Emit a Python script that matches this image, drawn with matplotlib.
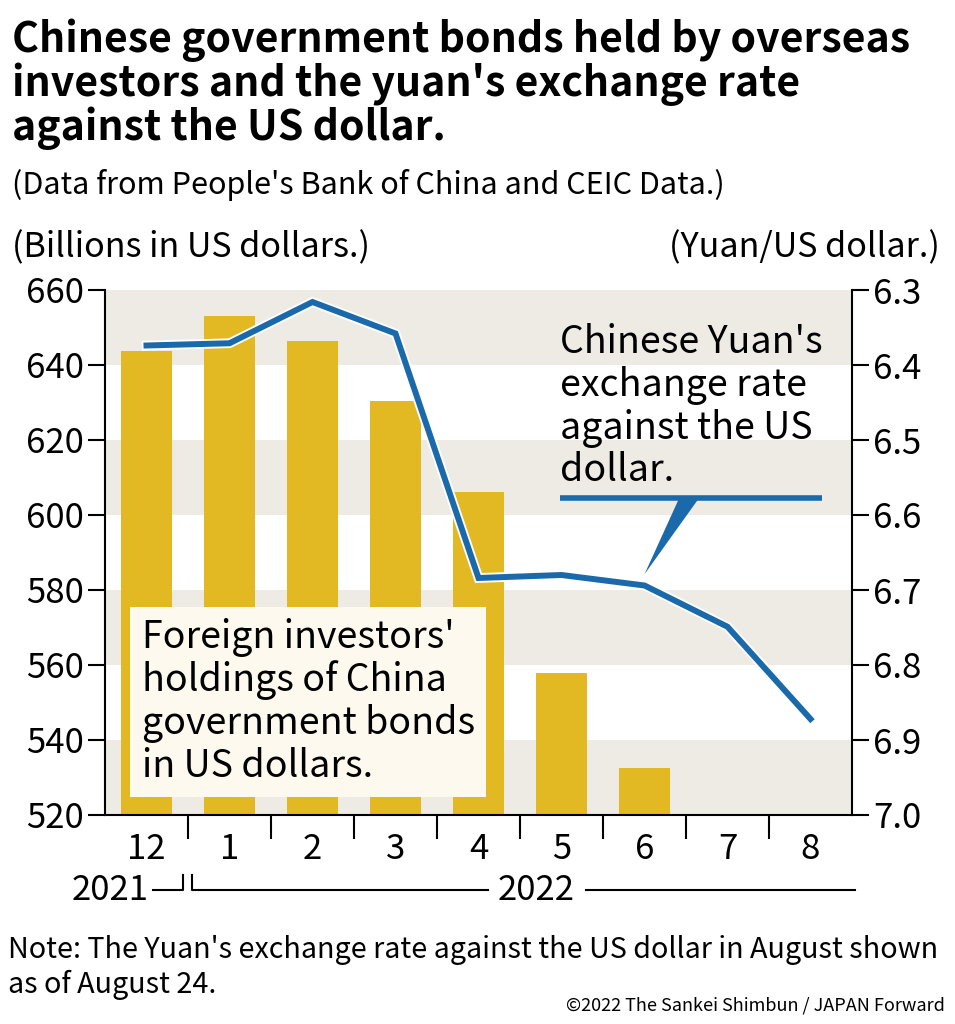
import matplotlib
matplotlib.use("Agg")
import matplotlib.pyplot as plt
import matplotlib.patheffects as pe
from matplotlib.patches import Polygon
from matplotlib.transforms import blended_transform_factory

plt.rcParams['font.family'] = ['Noto Sans CJK JP', 'DejaVu Sans']

# データ
months = ['12', '1', '2', '3', '4', '5', '6', '7', '8']
bonds = [643.7, 653.0, 646.4, 630.3, 606.2, 557.9, 532.6, None, None]  # 十億ドル
yuan = [6.374, 6.371, 6.316, 6.358, 6.684, 6.680, 6.694, 6.749, 6.872]  # 元/ドル
left_ticks = [520, 540, 560, 580, 600, 620, 640, 660]
right_ticks = [7.0, 6.9, 6.8, 6.7, 6.6, 6.5, 6.4, 6.3]
bands = [(520, 540), (560, 580), (600, 620), (640, 660)]

W, H = 955, 1024
fig = plt.figure(figsize=(W / 100, H / 100), dpi=100)
ax = fig.add_axes([105 / W, 1 - 815 / H, 747 / W, 525 / H])


def ftext(x, y, s, **kw):
    # ピクセル座標でテキストを置く
    fig.text(x / W, 1 - y / H, s, **kw)


# 背景の帯
for lo, hi in bands:
    ax.axhspan(lo, hi, color='#eeebe5', lw=0, zorder=0)

x = list(range(len(months)))
bx = [i for i, v in zip(x, bonds) if v is not None]
bv = [v for v in bonds if v is not None]
ax.bar(bx, bv, width=0.62, color='#e2b823', zorder=2)

ax.set_xlim(-0.5, len(months) - 0.5)
ax.set_ylim(520, 660)
ax.set_yticks(left_ticks)
ax.set_yticklabels([str(t) for t in left_ticks], fontsize=25)
ax.tick_params(axis='y', length=12, width=1.5, pad=3)
ax.set_xticks(x)
ax.set_xticklabels([])
ax.tick_params(axis='x', which='major', length=0)
ax.set_xticks([i + 0.5 for i in x[:-1]], minor=True)
ax.tick_params(axis='x', which='minor', length=17, width=1.5)
for s in ['top', 'right']:
    ax.spines[s].set_visible(False)
for s in ['left', 'bottom']:
    ax.spines[s].set_linewidth(1.5)

# 月ラベル
tr = blended_transform_factory(ax.transData, ax.transAxes)
for i, m in zip(x, months):
    ax.text(i, -0.066, m, transform=tr, ha='center', va='center', fontsize=25)

# 年の括弧
ax.text(-0.44, -0.143, '2021', transform=tr, ha='center', va='center', fontsize=25)
ax.text(4.7, -0.143, '2022', transform=tr, ha='center', va='center', fontsize=25)
kw = dict(transform=tr, color='black', lw=1.5, clip_on=False)
ax.plot([0.08, 0.44, 0.44], [-0.143, -0.143, -0.115], **kw)
ax.plot([0.55, 0.55, 4.12], [-0.115, -0.143, -0.143], **kw)
ax.plot([5.3, 8.54], [-0.143, -0.143], **kw)

# 為替レート(右軸)
ax2 = ax.twinx()
ax2.set_ylim(7.0, 6.3)
ax2.set_yticks(right_ticks)
ax2.set_yticklabels([f'{t:.1f}' for t in right_ticks], fontsize=25)
ax2.tick_params(axis='y', length=12, width=1.5, pad=3)
for s in ['top', 'left', 'bottom']:
    ax2.spines[s].set_visible(False)
ax2.spines['right'].set_linewidth(1.5)
ax2.plot(x, yuan, color='#1a6aab', lw=4.3, solid_joinstyle='miter', zorder=3,
         path_effects=[pe.Stroke(linewidth=7, foreground='white'), pe.Normal()])

# 注記線とくさび
ax2.plot([4.98, 8.14], [6.577, 6.577], color='#1a6aab', lw=4, solid_capstyle='butt')
ax2.add_patch(Polygon([[6.42, 6.577], [6.66, 6.577], [6.0, 6.679]],
                      closed=True, color='#1a6aab', lw=0))
ax2.text(4.98, 6.567, "Chinese Yuan's\nexchange rate\nagainst the US\ndollar.",
         fontsize=27, ha='left', va='bottom', linespacing=1.12)

ax2.text(-0.06, 6.849, "Foreign investors'\nholdings of China\ngovernment bonds\nin US dollars.",
         fontsize=27, ha='left', va='center', linespacing=1.12, zorder=5,
         bbox=dict(boxstyle='square,pad=0.3', fc='#fdf9ee', ec='none'))

# タイトル等
ftext(12, 40, "Chinese government bonds held by overseas", fontsize=29.5,
      fontweight='bold', va='center')
ftext(12, 84, "investors and the yuan's exchange rate", fontsize=29.5,
      fontweight='bold', va='center')
ftext(12, 128, "against the US dollar.", fontsize=29.5, fontweight='bold', va='center')
ftext(12, 185, "(Data from People's Bank of China and CEIC Data.)", fontsize=22,
      va='center')
ftext(12, 248, "(Billions in US dollars.)", fontsize=24.5, va='center')
ftext(940, 248, "(Yuan/US dollar.)", fontsize=24.5, va='center', ha='right')
ftext(8, 950, "Note: The Yuan's exchange rate against the US dollar in August shown",
      fontsize=20.7, va='center')
ftext(8, 985, "as of August 24.", fontsize=20.7, va='center')
ftext(945, 1005, "\u00a92022 The Sankei Shimbun / JAPAN Forward", fontsize=13,
      va='center', ha='right')

fig.savefig('out.png', dpi=100)
